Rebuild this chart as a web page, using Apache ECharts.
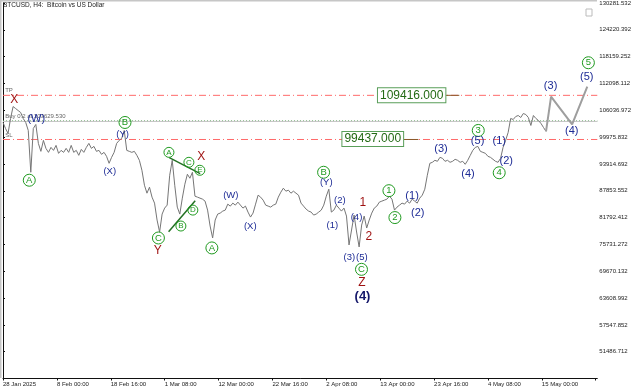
<!DOCTYPE html>
<html><head><meta charset="utf-8">
<script src="https://cdn.jsdelivr.net/npm/echarts@6/dist/echarts.min.js"></script>
<style>html,body{margin:0;padding:0;background:#fff}#c{width:640px;height:390px}</style>
</head><body><div id="c"></div>
<script>
// ---- data ----
const xTickLabels = ['28 Jan 2025','8 Feb 00:00','18 Feb 16:00','1 Mar 08:00','12 Mar 00:00','22 Mar 16:00','2 Apr 08:00','13 Apr 00:00','23 Apr 16:00','4 May 08:00','15 May 00:00'];
const yTickLabels = ['51486.712','57547.852','63608.992','69670.132','75731.272','81792.412','87853.552','93914.692','99975.832','106036.972','112098.112','118159.252','124220.392','130281.532'];
const BAR_STEP = 3; // H4 bars between samples
const closes = [
103281,101931,100806,104181,106881,106431,105981,105531,104181,103281,
101481,92031,101931,102831,98556,96756,99231,97431,96531,97656,
96981,98106,96306,96981,96531,97431,96531,98106,96531,96981,
95856,97206,96531,97656,98556,97431,97881,96756,96981,96081,
96531,95631,94056,95406,96531,98556,99231,99681,101481,96981,
96756,96531,96756,95856,94731,92481,89106,87306,88656,86406,
85056,81231,78531,82581,83931,84606,91356,94731,89106,84156,
82581,86181,89331,91581,90681,92031,86631,86406,86181,85956,
85506,83481,79881,77181,81231,82581,82806,83256,83481,84831,
84381,85056,84606,85281,84606,83931,84381,83031,81906,82806,
84831,86856,86406,85731,84606,84381,84156,84606,84831,86406,
87531,88431,87756,87981,87306,87756,87306,86856,85056,84381,
83706,83256,83031,82356,82581,83031,83481,84606,86631,88206,
83031,83481,84606,83931,83256,83931,82131,75606,78981,82356,
78531,75156,80106,82131,79431,81231,82806,83931,84381,85281,
85506,85731,85956,86631,85956,83481,84156,84606,85056,84831,
85506,85056,85956,85506,85056,86181,86856,88206,91356,94056,
94281,94731,94506,95406,95181,94506,94731,94281,94506,94956,
94731,94281,94506,93831,94731,95856,96981,97656,97881,96756,
96531,96306,95631,95406,94956,94506,94281,95181,97656,99231,
101031,104181,103956,104631,104856,104406,105306,105081,104406,102606,
104856,104181,103731,103056,102156,101256];
const projBars = [645, 651, 676, 694];
const projPrices = [101256, 109131, 102831, 111381];
const tpLevel = 109416, slLevel = 99437, orderLevel = 103629.53, bidLevel = 103520;
const levelTexts = [['TP', tpLevel], ['SL', slLevel], ['Buy 0.2 at 103629.530', orderLevel]];
const trendA = [[197.5, 95338], [234.2, 91738]];
const trendB = [[196.7, 78598], [228.3, 85574]];
const circledBig = [['A',31.2,90231],['B',144.9,103281],['C',184.6,77181],['A',248.1,74931],['B',380.8,92031],['C',425.8,70094],['1',458.4,87868],['2',465.5,81794],['3',564.5,101481],['4',589.4,91919],['5',695.3,116781]];
const circledSmall = [['A',197.1,96531],['C',220.8,94281],['E',233.8,92481],['D',225.5,83481],['B',211.3,79881]];
const navySmall = [['(Y)',142,100581],['(X)',126.8,92256],['(W)',270.6,86744],['(X)',293.7,79881],['(Y)',384,89849],['(2)',400.1,85574],['(1)',391.1,80106],['(4)',419.9,81838],['(3)',411.3,72839],['(5)',426.2,72839]];
const navyLarge = [['(W)',39.5,104181],['(1)',485.9,86699],['(2)',492.6,82738],['(3)',520.3,97206],['(4)',552.3,91649],['(5)',563.7,99006],['(1)',589.4,99006],['(2)',597.7,94573],['(3)',650.4,111449],['(4)',675.6,101323],['(5)',693.4,113631]];
const redLabels = [['X',13.4,108456],['X',235.4,95518],['Y',183.7,74211],['Z',426.2,66988],['1',427.4,85124],['2',434.5,77473]];
const degreeLabels = [['(4)',427,63974]];
const levelBoxes = [['109416.000',485.4,109416],['99437.000',439.2,99530]];
const boxTails = [[[525.4,109416],[542,109416]],[[475.6,99437],[493.4,99437]]];

// ---- chart ----
const FONT = 'Liberation Sans, Arial, sans-serif';
const yMin = 45425.572, yStep = 6061.14, yMax = 130281.532, xMax = 705.9;
const chart = echarts.init(document.getElementById('c'), null, {renderer:'canvas'});

function labelSeries(data, opt) {
  return {
    type:'scatter', silent:true, clip:false, z: opt.z || 6,
    symbol:'circle',
    symbolSize: opt.circle ? opt.size : 1,
    itemStyle: opt.circle ? {color:'rgba(255,255,255,0)', borderColor:opt.color, borderWidth:1, opacity:1} : {color:'rgba(0,0,0,0)', opacity:1},
    label:{show:true, position: opt.position || 'inside', formatter:'{b}', color:opt.color, opacity:1, fontSize:opt.fontSize, fontFamily:FONT, fontWeight:opt.bold?'bold':'normal'},
    emphasis:{disabled:true},
    data: data.map(d => ({name:d[0], value:[d[1], d[2]]}))
  };
}
function hLine(level, style) {
  return {type:'line', data:[[0, level],[xMax, level]], symbol:'none', silent:true, z:2, lineStyle:style};
}

const series = [
  hLine(tpLevel, {color:'#ff6a6a', type:[7,3,1,3], width:1}),
  hLine(slLevel, {color:'#ff6a6a', type:[7,3,1,3], width:1}),
  hLine(orderLevel, {color:'#4a9a4a', type:[1,2], width:1}),
  hLine(bidLevel, {color:'#c4c4c4', type:'solid', width:1}),
  {
    type:'line', data: closes.map((v,i)=>[i*BAR_STEP, v]), showSymbol:false, symbol:'none',
    lineStyle:{color:'#767676', width:1}, z:3, silent:true
  },
  {type:'line', data: projBars.map((b,i)=>[b, projPrices[i]]), symbol:'none', lineStyle:{color:'#9e9e9e', width:2}, z:3, silent:true},
  {type:'line', data: trendA, symbol:'none', lineStyle:{color:'#237023', width:1.5}, z:4, silent:true},
  {type:'line', data: trendB, symbol:'none', lineStyle:{color:'#237023', width:1.5}, z:4, silent:true},
  ...boxTails.map(t => ({type:'line', data:t, symbol:'none', lineStyle:{color:'#8a5a2a', width:1}, z:4, silent:true})),
  labelSeries(levelTexts.map(t => [t[0], 2, t[1]]), {color:'#666', fontSize:6, position:[1,-7]}),
  labelSeries(circledBig, {circle:true, size:12, color:'#1f9a1f', fontSize:9.5}),
  labelSeries(circledSmall, {circle:true, size:10, color:'#1f9a1f', fontSize:8}),
  labelSeries(navySmall, {color:'#1d2b95', fontSize:9.5}),
  labelSeries(navyLarge, {color:'#1d2b95', fontSize:11}),
  labelSeries(redLabels, {color:'#9e1010', fontSize:12}),
  labelSeries(degreeLabels, {color:'#15186a', fontSize:13, bold:true}),
  {
    type:'scatter', silent:true, clip:false, z:7, symbol:'circle', symbolSize:1, itemStyle:{color:'rgba(0,0,0,0)', opacity:1},
    emphasis:{disabled:true},
    label:{show:true, position:'inside', formatter:'{b}', color:'#236a14', fontSize:12, fontFamily:FONT, opacity:1,
      backgroundColor:'#fff', borderColor:'#5a9e5a', borderWidth:1, padding:[1,2,1,2]},
    data: levelBoxes.map(d => ({name:d[0], value:[d[1], d[2]]}))
  }
];

chart.setOption({
  animation:false,
  backgroundColor:'#fff',
  grid:{left:1.7, right:42.7, top:1.5, bottom:11.5, containLabel:false},
  xAxis:{
    type:'value', min:0, max:xMax, interval:64,
    axisLine:{show:true, onZero:false, lineStyle:{color:'#111', width:1}},
    axisTick:{show:true, length:2, lineStyle:{color:'#111'}},
    axisLabel:{show:true, fontSize:6, color:'#222', fontFamily:FONT, align:'left', margin:3, showMaxLabel:false,
      formatter: v => xTickLabels[Math.round(v/64)] || ''},
    splitLine:{show:false}
  },
  yAxis:{
    type:'value', position:'right', min:yMin, max:yMax, interval:yStep,
    axisLine:{show:true, lineStyle:{color:'#111', width:1}},
    axisTick:{show:true, length:2, lineStyle:{color:'#111'}},
    axisLabel:{show:true, fontSize:6, color:'#222', fontFamily:FONT, margin:2, showMinLabel:false,
      formatter: v => yTickLabels[Math.round((v - 51486.712)/yStep)] || ''},
    splitLine:{show:false}
  },
  graphic:[
    {type:'rect', shape:{x:0, y:0, width:597, height:1.5}, style:{fill:'#c6c6c6'}, silent:true},
    {type:'rect', shape:{x:0, y:0, width:1.5, height:378}, style:{fill:'#c6c6c6'}, silent:true},
    {type:'text', left:3, top:2, style:{text:'BTCUSD, H4:  Bitcoin vs US Dollar', fontSize:6.5, fill:'#222', fontFamily:FONT}, silent:true},
    {type:'rect', shape:{x:586, y:9, width:6, height:7}, style:{fill:'#fff', stroke:'#bbb', lineWidth:1}, silent:true}
  ],
  series
});
</script>
</body></html>
